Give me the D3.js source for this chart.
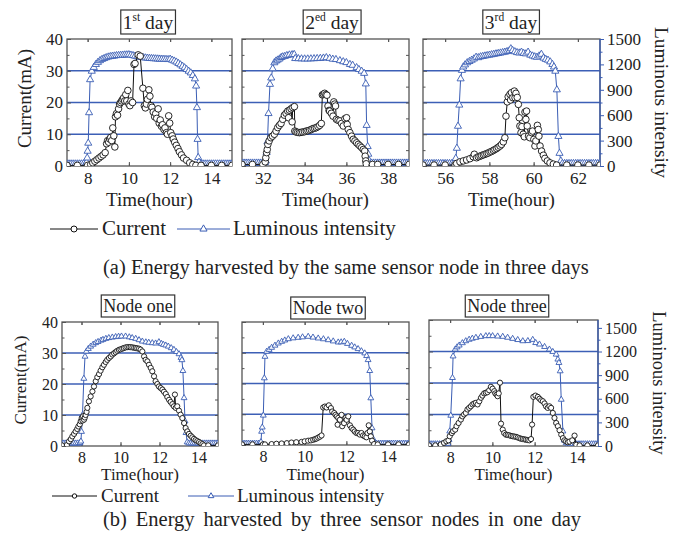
<!DOCTYPE html>
<html>
<head>
<meta charset="UTF-8">
<script src="https://d3js.org/d3.v7.min.js"></script>
<style>
  body { margin: 0; background: #fff; }
  svg { display: block; font-family: "Liberation Serif", "Times New Roman", serif; }
</style>
</head>
<body>
<svg id="chart" width="685" height="546"></svg>
<script>
// ---- data: [time (hour), value] ----
// current in mA, luminous intensity on the right axis

var day1Current = [[7.0,0.2],[7.5,0.2],[8.0,0.2],[8.15,0.5],[8.25,1.0],[8.35,1.5],[8.45,2.0],[8.55,2.5],[8.65,3.0],[8.75,3.5],[8.85,4.2],[8.92,7.0],[8.97,8.0],[9.02,7.5],[9.07,8.5],[9.12,9.0],[9.17,8.0],[9.22,12.0],[9.27,9.5],[9.32,6.0],[9.35,15.5],[9.4,16.5],[9.45,16.0],[9.5,18.0],[9.55,19.5],[9.6,20.0],[9.65,20.5],[9.7,21.0],[9.75,21.5],[9.8,20.5],[9.85,22.5],[9.9,20.5],[9.95,23.8],[10.0,19.5],[10.05,19.0],[10.1,20.5],[10.18,20.0],[10.25,32.0],[10.3,32.3],[10.45,35.0],[10.55,34.6],[10.68,24.5],[10.75,19.0],[10.8,18.3],[10.85,19.5],[10.9,21.0],[10.97,24.0],[11.02,22.0],[11.07,19.0],[11.12,18.5],[11.18,17.0],[11.25,15.5],[11.3,16.5],[11.35,15.0],[11.42,18.0],[11.47,13.5],[11.52,14.5],[11.58,12.5],[11.63,13.0],[11.7,11.5],[11.75,12.0],[11.82,10.5],[11.87,10.0],[11.93,15.8],[11.98,13.5],[12.03,10.5],[12.1,9.5],[12.15,8.5],[12.22,7.5],[12.3,6.5],[12.38,5.5],[12.45,4.5],[12.55,3.5],[12.65,2.5],[12.8,1.8],[12.95,1.0],[13.1,0.5],[13.25,0.2],[13.5,0.2],[14.0,0.2],[14.5,0.2],[15.0,0.2]];
var day1Lum = [[7.0,25],[7.1,25],[7.2,25],[7.3,25],[7.4,25],[7.5,25],[7.6,25],[7.7,25],[7.8,25],[7.9,25],[7.95,45],[7.98,95],[8.0,175],[8.03,270],[8.07,630],[8.12,1020],[8.2,1120],[8.3,1165],[8.4,1200],[8.5,1225],[8.6,1245],[8.7,1260],[8.8,1270],[8.9,1280],[9.0,1288],[9.1,1293],[9.2,1297],[9.3,1300],[9.4,1304],[9.5,1306],[9.6,1308],[9.7,1310],[9.8,1312],[9.9,1313],[10.0,1315],[10.1,1310],[10.2,1305],[10.3,1298],[10.4,1292],[10.5,1287],[10.6,1283],[10.7,1280],[10.8,1277],[10.9,1274],[11.0,1272],[11.1,1270],[11.2,1268],[11.3,1266],[11.4,1265],[11.5,1263],[11.6,1262],[11.7,1261],[11.8,1260],[11.9,1258],[12.0,1262],[12.1,1250],[12.2,1240],[12.3,1228],[12.4,1212],[12.5,1195],[12.6,1178],[12.7,1160],[12.8,1140],[12.9,1120],[13.0,1100],[13.1,1070],[13.2,1030],[13.26,945],[13.3,690],[13.33,315],[13.36,100],[13.4,45],[13.5,25],[13.6,25],[13.7,25],[13.8,25],[13.9,25],[14.0,25],[14.1,25],[14.2,25],[14.3,25],[14.4,25],[14.5,25],[14.6,25],[14.7,25],[14.8,25],[14.9,25],[15.0,25]];

var day2Current = [[31.0,0.5],[31.5,0.5],[32.0,0.5],[32.11,1.3],[32.14,2.6],[32.18,4.2],[32.21,5.2],[32.24,6.8],[32.3,7.9],[32.38,8.9],[32.46,9.4],[32.55,10.0],[32.63,11.0],[32.71,12.1],[32.79,12.8],[32.87,13.4],[32.95,14.7],[33.03,16.0],[33.11,16.6],[33.19,17.3],[33.23,15.2],[33.27,17.6],[33.35,18.0],[33.4,13.9],[33.43,18.4],[33.51,18.7],[33.53,11.0],[33.59,10.7],[33.67,10.6],[33.75,10.5],[33.83,10.6],[33.91,10.7],[34.0,10.8],[34.08,11.0],[34.16,11.1],[34.24,11.3],[34.32,11.5],[34.4,11.8],[34.48,11.9],[34.56,12.1],[34.64,12.4],[34.72,12.8],[34.8,13.4],[34.85,22.4],[34.9,22.6],[34.96,22.9],[35.02,22.5],[35.07,22.3],[35.12,18.9],[35.17,17.5],[35.2,17.3],[35.28,16.6],[35.36,15.7],[35.4,20.2],[35.44,19.5],[35.48,18.9],[35.52,14.7],[35.6,14.4],[35.69,14.2],[35.77,13.4],[35.85,12.6],[35.93,14.9],[36.01,15.2],[36.04,13.1],[36.09,11.5],[36.17,10.5],[36.25,9.4],[36.33,8.4],[36.41,7.9],[36.49,7.3],[36.57,6.8],[36.65,6.3],[36.73,5.8],[36.81,5.2],[36.88,4.7],[36.9,3.1],[36.93,1.6],[36.95,0.7],[37.25,0.5],[37.5,0.5],[38.0,0.5],[38.5,0.5],[39.0,0.5]];
var day2Lum = [[31.0,35],[31.1,35],[31.2,35],[31.3,35],[31.4,35],[31.5,35],[31.6,35],[31.7,35],[31.8,35],[31.9,35],[32.0,35],[32.1,40],[32.14,60],[32.18,160],[32.22,285],[32.27,620],[32.34,965],[32.4,1040],[32.47,1150],[32.55,1220],[32.63,1240],[32.71,1252],[32.8,1265],[32.88,1282],[32.95,1290],[33.05,1295],[33.15,1305],[33.27,1312],[33.4,1315],[33.5,1318],[33.55,1270],[33.7,1268],[33.85,1266],[34.0,1265],[34.15,1265],[34.3,1266],[34.45,1268],[34.6,1270],[34.75,1272],[34.9,1275],[35.04,1280],[35.2,1272],[35.35,1262],[35.5,1258],[35.69,1245],[35.85,1232],[36.0,1222],[36.17,1200],[36.3,1190],[36.49,1162],[36.6,1140],[36.73,1120],[36.85,1095],[36.93,970],[36.97,480],[37.02,230],[37.05,140],[37.1,60],[37.2,35],[37.3,35],[37.4,35],[37.5,35],[37.6,35],[37.7,35],[37.8,35],[37.9,35],[38.0,35],[38.1,35],[38.2,35],[38.3,35],[38.4,35],[38.5,35],[38.6,35],[38.7,35],[38.8,35],[38.9,35],[39.0,35]];

var day3Current = [[55.0,0.3],[55.5,0.3],[56.0,0.3],[56.45,0.3],[56.52,0.8],[56.67,1.3],[56.82,1.6],[56.97,1.9],[57.12,2.3],[57.27,2.9],[57.32,3.7],[57.42,2.6],[57.5,2.9],[57.58,3.1],[57.65,3.3],[57.73,3.5],[57.8,3.7],[57.88,3.9],[57.95,4.1],[58.03,4.4],[58.1,4.6],[58.18,4.9],[58.25,5.2],[58.33,5.5],[58.4,5.9],[58.48,6.3],[58.55,6.8],[58.63,7.6],[58.7,8.9],[58.75,15.7],[58.81,20.2],[58.85,21.8],[58.93,22.6],[58.96,20.8],[59.0,23.1],[59.06,21.5],[59.13,23.6],[59.16,21.5],[59.2,22.9],[59.26,21.6],[59.31,19.4],[59.35,15.2],[59.38,12.6],[59.43,10.5],[59.47,12.4],[59.53,10.0],[59.58,9.2],[59.61,17.0],[59.65,14.7],[59.68,17.3],[59.71,12.6],[59.77,9.4],[59.83,8.9],[59.91,10.5],[59.95,11.0],[60.01,8.4],[60.06,6.3],[60.1,7.9],[60.17,12.8],[60.21,11.5],[60.24,9.4],[60.29,6.3],[60.36,4.7],[60.44,3.4],[60.51,2.4],[60.62,1.6],[60.74,1.0],[60.89,0.6],[61.04,0.3],[61.5,0.3],[62.0,0.3],[62.5,0.3],[63.0,0.3]];
var day3Lum = [[55.0,30],[55.1,30],[55.2,30],[55.3,30],[55.4,30],[55.5,30],[55.6,30],[55.7,30],[55.8,30],[55.9,30],[56.0,30],[56.1,30],[56.2,30],[56.3,30],[56.4,40],[56.48,90],[56.53,210],[56.58,470],[56.64,720],[56.7,1030],[56.76,1130],[56.82,1170],[56.9,1195],[57.0,1220],[57.1,1235],[57.2,1250],[57.3,1265],[57.4,1285],[57.5,1280],[57.6,1290],[57.7,1295],[57.8,1300],[57.9,1305],[58.0,1310],[58.1,1315],[58.2,1320],[58.3,1325],[58.4,1330],[58.5,1335],[58.6,1340],[58.7,1345],[58.8,1352],[58.9,1360],[58.97,1385],[59.05,1365],[59.15,1350],[59.25,1340],[59.35,1335],[59.45,1345],[59.55,1330],[59.65,1325],[59.75,1345],[59.85,1310],[59.95,1300],[60.05,1290],[60.15,1285],[60.25,1300],[60.35,1320],[60.45,1275],[60.55,1260],[60.65,1250],[60.75,1230],[60.85,1200],[60.92,1170],[60.98,1120],[61.05,900],[61.12,350],[61.17,150],[61.23,60],[61.3,30],[61.4,30],[61.5,30],[61.6,30],[61.7,30],[61.8,30],[61.9,30],[62.0,30],[62.1,30],[62.2,30],[62.3,30],[62.4,30],[62.5,30],[62.6,30],[62.7,30],[62.8,30],[62.9,30],[63.0,30]];

var node1Current = [[7.0,0.2],[7.25,0.3],[7.36,1.5],[7.45,2.2],[7.53,3.1],[7.62,3.9],[7.7,4.7],[7.78,5.5],[7.84,6.3],[7.91,7.0],[7.96,8.0],[8.01,9.0],[8.05,8.2],[8.08,9.6],[8.13,8.5],[8.17,9.2],[8.21,10.0],[8.26,11.0],[8.3,12.3],[8.38,14.4],[8.47,16.0],[8.56,17.6],[8.64,19.2],[8.73,20.9],[8.81,22.2],[8.9,23.2],[8.98,24.3],[9.07,25.4],[9.15,26.2],[9.24,27.1],[9.32,27.8],[9.41,28.4],[9.5,28.9],[9.58,29.5],[9.67,29.9],[9.75,30.3],[9.83,30.7],[9.92,31.0],[10.0,31.2],[10.09,31.4],[10.17,31.6],[10.26,31.8],[10.35,31.9],[10.44,31.9],[10.52,31.9],[10.61,31.8],[10.7,31.7],[10.78,31.6],[10.86,31.5],[10.95,31.4],[11.03,31.1],[11.12,30.5],[11.21,28.9],[11.29,27.8],[11.38,27.3],[11.46,26.2],[11.55,25.2],[11.63,24.1],[11.72,22.5],[11.8,20.9],[11.89,20.0],[11.97,19.2],[12.06,18.7],[12.15,18.2],[12.23,17.5],[12.32,16.8],[12.4,15.8],[12.49,14.9],[12.57,14.2],[12.66,13.5],[12.74,12.8],[12.79,16.6],[12.83,12.3],[12.91,12.8],[13.0,11.4],[13.08,10.1],[13.17,9.0],[13.26,7.4],[13.34,5.8],[13.43,4.7],[13.51,3.9],[13.6,3.3],[13.68,2.8],[13.77,2.3],[13.85,1.9],[13.94,1.6],[14.03,1.3],[14.11,0.9],[14.2,0.6],[14.28,0.2],[14.5,0.2],[15.0,0.2]];
var node1Lum = [[7.0,35],[7.1,35],[7.2,35],[7.3,35],[7.4,35],[7.5,35],[7.6,35],[7.7,35],[7.8,35],[7.9,35],[7.92,40],[7.97,60],[8.0,185],[8.05,400],[8.12,870],[8.18,1155],[8.25,1220],[8.35,1255],[8.47,1285],[8.6,1310],[8.73,1330],[8.85,1345],[9.0,1362],[9.1,1372],[9.25,1385],[9.4,1395],[9.58,1402],[9.75,1408],[9.9,1412],[10.05,1415],[10.26,1415],[10.45,1405],[10.6,1395],[10.78,1385],[10.95,1368],[11.12,1350],[11.3,1340],[11.45,1335],[11.63,1329],[11.8,1325],[11.97,1342],[12.1,1320],[12.2,1308],[12.32,1299],[12.45,1285],[12.6,1265],[12.74,1243],[12.87,1215],[13.0,1187],[13.1,1140],[13.15,1110],[13.2,970],[13.26,620],[13.31,320],[13.36,170],[13.42,50],[13.5,35],[13.6,35],[13.7,35],[13.8,35],[13.9,35],[14.0,35],[14.1,35],[14.2,35],[14.3,35],[14.4,35],[14.5,35],[14.6,35],[14.7,35],[14.8,35],[14.9,35],[15.0,35]];

var node2Current = [[7.0,0.2],[7.5,0.2],[8.0,0.2],[8.1,0.2],[8.42,0.3],[8.65,0.4],[8.9,0.5],[9.15,0.6],[9.37,0.8],[9.6,0.9],[9.85,1.0],[10.0,1.2],[10.17,1.4],[10.3,1.5],[10.41,1.7],[10.5,1.9],[10.57,2.1],[10.65,2.4],[10.73,2.7],[10.81,3.1],[10.89,12.2],[10.97,12.5],[11.05,12.2],[11.16,12.9],[11.26,12.0],[11.32,10.9],[11.42,10.4],[11.48,9.8],[11.54,9.3],[11.58,6.6],[11.61,8.8],[11.69,8.2],[11.77,9.8],[11.8,6.1],[11.89,7.1],[11.96,8.8],[12.01,8.2],[12.09,9.3],[12.17,6.4],[12.25,5.5],[12.33,5.0],[12.4,4.4],[12.48,3.9],[12.56,3.9],[12.64,3.4],[12.72,3.9],[12.8,3.1],[12.88,2.8],[12.96,2.5],[13.01,3.9],[13.07,6.4],[13.12,4.4],[13.17,2.8],[13.23,1.4],[13.33,0.3],[13.5,0.2],[14.0,0.2],[14.5,0.2],[15.0,0.2]];
var node2Lum = [[7.0,20],[7.1,20],[7.2,20],[7.3,20],[7.4,20],[7.5,20],[7.6,20],[7.7,20],[7.8,20],[7.88,25],[7.91,40],[7.94,175],[7.97,230],[8.02,385],[8.07,870],[8.1,1150],[8.18,1215],[8.3,1240],[8.42,1267],[8.58,1295],[8.74,1323],[8.9,1345],[9.05,1362],[9.22,1379],[9.45,1390],[9.69,1397],[9.9,1403],[10.17,1410],[10.4,1400],[10.65,1388],[10.9,1378],[11.13,1366],[11.37,1350],[11.61,1336],[11.75,1338],[11.9,1345],[12.05,1318],[12.25,1293],[12.4,1272],[12.56,1250],[12.72,1222],[12.88,1194],[12.97,1160],[13.04,1107],[13.12,965],[13.17,610],[13.23,220],[13.3,70],[13.36,26],[13.45,20],[13.55,20],[13.65,20],[13.75,20],[13.85,20],[13.95,20],[14.05,20],[14.15,20],[14.25,20],[14.35,20],[14.45,20],[14.55,20],[14.65,20],[14.75,20],[14.85,20],[14.95,20],[15.0,20]];

var node3Current = [[7.0,0.2],[7.3,0.2],[7.56,0.5],[7.71,1.0],[7.82,1.5],[7.92,1.8],[7.98,3.1],[8.08,4.1],[8.14,4.7],[8.24,5.2],[8.3,6.3],[8.4,7.3],[8.51,8.4],[8.58,9.4],[8.66,10.0],[8.74,10.5],[8.82,11.6],[8.9,12.1],[8.98,12.6],[9.06,13.2],[9.14,13.5],[9.22,13.7],[9.3,13.2],[9.38,14.2],[9.46,15.3],[9.53,16.0],[9.61,16.7],[9.69,16.9],[9.77,17.1],[9.85,17.7],[9.93,18.8],[10.01,18.2],[10.09,17.4],[10.14,16.7],[10.2,16.3],[10.25,15.8],[10.3,16.7],[10.36,20.1],[10.41,7.1],[10.49,5.2],[10.56,4.1],[10.64,3.6],[10.72,3.5],[10.8,3.4],[10.88,3.2],[10.96,3.1],[11.04,3.0],[11.12,2.9],[11.2,2.7],[11.28,2.5],[11.36,2.3],[11.44,2.2],[11.52,2.1],[11.59,2.0],[11.67,1.9],[11.75,1.8],[11.83,2.2],[11.88,6.8],[11.94,15.6],[12.04,16.0],[12.15,15.6],[12.23,15.0],[12.31,14.5],[12.39,14.2],[12.47,13.5],[12.54,12.6],[12.62,12.1],[12.7,12.6],[12.78,12.1],[12.86,10.5],[12.94,8.9],[13.02,7.3],[13.1,6.3],[13.18,5.0],[13.26,3.6],[13.34,2.5],[13.41,1.8],[13.49,1.5],[13.57,1.2],[13.65,1.4],[13.78,1.8],[13.89,3.3],[13.97,0.4],[14.13,0.2],[14.5,0.2],[15.0,0.2]];
var node3Lum = [[7.0,25],[7.1,25],[7.2,25],[7.3,25],[7.4,25],[7.5,25],[7.6,25],[7.7,25],[7.8,25],[7.9,30],[7.95,80],[7.98,187],[8.03,387],[8.11,866],[8.14,1140],[8.24,1227],[8.33,1255],[8.43,1278],[8.58,1308],[8.74,1333],[8.9,1352],[9.05,1365],[9.22,1376],[9.45,1388],[9.69,1397],[9.85,1398],[10.01,1397],[10.25,1393],[10.49,1389],[10.72,1377],[10.96,1363],[11.2,1348],[11.44,1333],[11.68,1335],[11.91,1350],[12.05,1310],[12.23,1291],[12.47,1260],[12.7,1227],[12.86,1197],[13.02,1163],[13.1,1100],[13.15,1057],[13.21,951],[13.26,590],[13.34,187],[13.4,72],[13.49,38],[13.6,25],[13.7,25],[13.8,25],[13.9,25],[14.0,25],[14.1,25],[14.2,25],[14.3,25],[14.4,25],[14.5,25],[14.6,25],[14.7,25],[14.8,25],[14.9,25],[15.0,25]];

// ticks / labels
var currentTicks = [0, 10, 20, 30, 40];
var gridValues = [10, 20, 30];
var lumTicks = [0, 300, 600, 900, 1200, 1500];
var topTitles = [["1", "st", " day"], ["2", "ed", " day"], ["3", "rd", " day"]];
var bottomTitles = ["Node one", "Node two", "Node three"];
var captionA = "(a) Energy harvested by the same sensor node in three days";
var captionB = "(b) Energy harvested by three sensor nodes in one day";

var svg = d3.select("#chart");
var blue = "#3a5db4";
var gridBlue = "#3c5fb6";
var ink = "#222";
var frameCol = "#555";

var panels = [
  {key: "a1", cur: day1Current, lum: day1Lum, xd: [7, 15], xt: [8, 10, 12, 14], lumMax: 1500,
   x0: 67, x1: 232, y0: 39, y1: 166, title: topTitles[0], tx: 148, tby: 29, left: true, right: false, big: true},
  {key: "a2", cur: day2Current, lum: day2Lum, xd: [31, 39], xt: [32, 34, 36, 38], lumMax: 1500,
   x0: 242, x1: 409, y0: 39, y1: 166, title: topTitles[1], tx: 332, tby: 29, left: false, right: false, big: true},
  {key: "a3", cur: day3Current, lum: day3Lum, xd: [55, 63], xt: [56, 58, 60, 62], lumMax: 1500,
   x0: 423, x1: 600, y0: 39, y1: 166, title: topTitles[2], tx: 511, tby: 29, left: false, right: true, big: true},
  {key: "b1", cur: node1Current, lum: node1Lum, xd: [7, 15], xt: [8, 10, 12, 14], lumMax: 1600,
   x0: 62, x1: 218, y0: 322, y1: 446, title: bottomTitles[0], tx: 138, tby: 312, left: true, right: false, big: false},
  {key: "b2", cur: node2Current, lum: node2Lum, xd: [7, 15], xt: [8, 10, 12, 14], lumMax: 1600,
   x0: 242, x1: 409, y0: 322, y1: 445, title: bottomTitles[1], tx: 328, tby: 314, left: false, right: false, big: false},
  {key: "b3", cur: node3Current, lum: node3Lum, xd: [7, 15], xt: [8, 10, 12, 14], lumMax: 1600,
   x0: 429, x1: 598, y0: 320, y1: 446, title: bottomTitles[2], tx: 507, tby: 312, left: false, right: true, big: false}
];

function styleAxis(g, size) {
  g.attr("font-family", null).attr("font-size", size).attr("color", frameCol);
  g.selectAll("text").attr("fill", ink);
  g.select(".domain").remove();
}

function drawPanel(p) {
  var g = svg.append("g");
  var x = d3.scaleLinear().domain(p.xd).range([p.x0, p.x1]);
  var y = d3.scaleLinear().domain([0, 40]).range([p.y1, p.y0]);
  var yl = d3.scaleLinear().domain([0, p.lumMax]).range([p.y1, p.y0]);
  var tickFont = p.big ? 17 : 16;
  var labelFont = p.big ? 19 : 17;
  var r = p.big ? 3.3 : 2.6;
  var triSize = p.big ? 22 : 15;

  var minorX = d3.range(p.xd[0] + 1, p.xd[1], 2);

  g.append("clipPath").attr("id", "clip" + p.key)
    .append("rect").attr("x", p.x0).attr("y", p.y0 - 4)
    .attr("width", p.x1 - p.x0).attr("height", p.y1 - p.y0 + 4);

  // horizontal grid lines
  g.selectAll(".grid").data(gridValues).join("line")
    .attr("x1", p.x0).attr("x2", p.x1)
    .attr("y1", function(d) { return y(d); }).attr("y2", function(d) { return y(d); })
    .attr("stroke", gridBlue).attr("stroke-width", 1.3);

  // ticks, pointing inward
  g.append("g").attr("transform", "translate(0," + p.y1 + ")")
    .call(d3.axisBottom(x).tickValues(p.xt).tickSize(-4).tickPadding(6).tickFormat(d3.format("d")))
    .call(styleAxis, tickFont);
  g.append("g").attr("transform", "translate(0," + p.y1 + ")")
    .call(d3.axisBottom(x).tickValues(minorX).tickSize(-2.5).tickFormat(""))
    .call(styleAxis, tickFont);
  g.append("g").attr("transform", "translate(0," + p.y0 + ")")
    .call(d3.axisTop(x).tickValues(p.xt.concat(minorX)).tickSize(-3).tickFormat(""))
    .call(styleAxis, tickFont);
  var leftAxis = d3.axisLeft(y).tickValues(currentTicks).tickSize(-4).tickPadding(4);
  if (!p.left) leftAxis.tickFormat("");
  g.append("g").attr("transform", "translate(" + p.x0 + ",0)")
    .call(leftAxis).call(styleAxis, tickFont);
  g.append("g").attr("transform", "translate(" + p.x0 + ",0)")
    .call(d3.axisLeft(y).tickValues([5, 15, 25, 35]).tickSize(-2.5).tickFormat(""))
    .call(styleAxis, tickFont);
  if (!p.right) {
    g.append("g").attr("transform", "translate(" + p.x1 + ",0)")
      .call(d3.axisRight(y).tickValues([5, 10, 15, 20, 25, 30, 35]).tickSize(-3).tickFormat(""))
      .call(styleAxis, tickFont);
  }

  // frame
  g.append("rect").attr("x", p.x0).attr("y", p.y0)
    .attr("width", p.x1 - p.x0).attr("height", p.y1 - p.y0)
    .attr("fill", "none").attr("stroke", frameCol).attr("stroke-width", 1.3);

  // luminous intensity axis on the right
  if (p.right) {
    var ra = g.append("g").attr("transform", "translate(" + p.x1 + ",0)")
      .call(d3.axisRight(yl).tickValues(lumTicks).tickSize(4).tickPadding(3).tickFormat(d3.format("d")))
      .call(styleAxis, tickFont);
    ra.attr("color", blue);
    ra.append("line").attr("y1", p.y1).attr("y2", p.y0).attr("stroke", blue).attr("stroke-width", 1.3);
    g.append("g").attr("transform", "translate(" + p.x1 + ",0)")
      .call(d3.axisRight(yl).tickValues([150, 450, 750, 1050, 1350]).tickSize(2.5).tickFormat(""))
      .call(styleAxis, tickFont).attr("color", blue);
    g.append("text")
      .attr("transform", "translate(" + (p.x1 + 55) + "," + ((p.y0 + p.y1) / 2) + ") rotate(90)")
      .attr("text-anchor", "middle").attr("font-size", p.big ? 19.5 : 18.5).attr("fill", ink)
      .text("Luminous intensity");
  }
  if (p.left) {
    g.append("text")
      .attr("transform", "translate(" + (p.x0 - 36) + "," + ((p.y0 + p.y1) / 2 - 4) + ") rotate(-90)")
      .attr("text-anchor", "middle").attr("font-size", labelFont).attr("fill", ink)
      .text("Current(mA)");
  }

  g.append("text").attr("x", (p.x0 + p.x1) / 2).attr("y", p.big ? p.y1 + 40 : 480)
    .attr("text-anchor", "middle").attr("font-size", labelFont).attr("fill", ink)
    .text("Time(hour)");

  // series
  var plot = g.append("g").attr("clip-path", "url(#clip" + p.key + ")");
  var lumLine = d3.line().x(function(d) { return x(d[0]); }).y(function(d) { return yl(d[1]); });
  var curLine = d3.line().x(function(d) { return x(d[0]); }).y(function(d) { return y(d[1]); });
  var tri = d3.symbol().type(d3.symbolTriangle).size(triSize);

  plot.append("path").datum(p.lum).attr("d", lumLine)
    .attr("fill", "none").attr("stroke", blue).attr("stroke-width", 1);
  plot.selectAll(".tri").data(p.lum).join("path")
    .attr("transform", function(d) { return "translate(" + x(d[0]) + "," + yl(d[1]) + ")"; })
    .attr("d", tri).attr("fill", "white").attr("stroke", blue).attr("stroke-width", 0.9);

  plot.append("path").datum(p.cur).attr("d", curLine)
    .attr("fill", "none").attr("stroke", "#111").attr("stroke-width", 1);
  plot.selectAll(".dot").data(p.cur).join("circle")
    .attr("cx", function(d) { return x(d[0]); }).attr("cy", function(d) { return y(d[1]); })
    .attr("r", r).attr("fill", "white").attr("stroke", "#111").attr("stroke-width", 0.9);

  // boxed title
  var tg = svg.append("g");
  var box = tg.append("rect");
  var t = tg.append("text").attr("x", p.tx).attr("y", p.tby)
    .attr("text-anchor", "middle").attr("font-size", p.big ? 19.5 : 18).attr("fill", ink);
  if (Array.isArray(p.title)) {
    t.append("tspan").text(p.title[0]);
    t.append("tspan").attr("font-size", 11.5).attr("dy", -8).text(p.title[1]);
    t.append("tspan").attr("dy", 8).text(p.title[2]);
  } else {
    t.text(p.title);
  }
  var bb = t.node().getBBox();
  box.attr("x", bb.x - 2).attr("y", bb.y - 1)
    .attr("width", bb.width + 4).attr("height", bb.height + 2)
    .attr("fill", "white").attr("stroke", "#333").attr("stroke-width", 1.2);
}

panels.forEach(drawPanel);

// legends
function legend(yy, curX, lumX, fontSize, r, triSize) {
  var g = svg.append("g");
  g.append("line").attr("x1", curX[0]).attr("x2", curX[1]).attr("y1", yy).attr("y2", yy)
    .attr("stroke", "#111").attr("stroke-width", 1);
  g.append("circle").attr("cx", (curX[0] + curX[1]) / 2).attr("cy", yy).attr("r", r)
    .attr("fill", "white").attr("stroke", "#111");
  g.append("text").attr("x", curX[1] + 4).attr("y", yy + 6).attr("font-size", fontSize).attr("fill", ink)
    .text("Current");
  g.append("line").attr("x1", lumX[0]).attr("x2", lumX[1]).attr("y1", yy).attr("y2", yy)
    .attr("stroke", blue).attr("stroke-width", 1);
  g.append("path").attr("transform", "translate(" + ((lumX[0] + lumX[1]) / 2) + "," + yy + ")")
    .attr("d", d3.symbol().type(d3.symbolTriangle).size(triSize))
    .attr("fill", "white").attr("stroke", blue);
  g.append("text").attr("x", lumX[1] + 3).attr("y", yy + 6).attr("font-size", fontSize).attr("fill", ink)
    .text("Luminous intensity");
}
legend(229, [50, 98], [177, 230], 21, 3, 22);
legend(496, [52, 97], [188, 234], 19, 2.2, 14);

// captions, spread to the same width as in the figure
function caption(text, yy) {
  var c = svg.append("text").attr("x", 103).attr("y", yy)
    .attr("font-size", 20.5).attr("fill", ink).text(text);
  var w = c.node().getComputedTextLength();
  var spaces = text.split(" ").length - 1;
  c.attr("word-spacing", Math.max(0, (478 - w) / spaces));
}
caption(captionA, 274);
caption(captionB, 526);
</script>
</body>
</html>
